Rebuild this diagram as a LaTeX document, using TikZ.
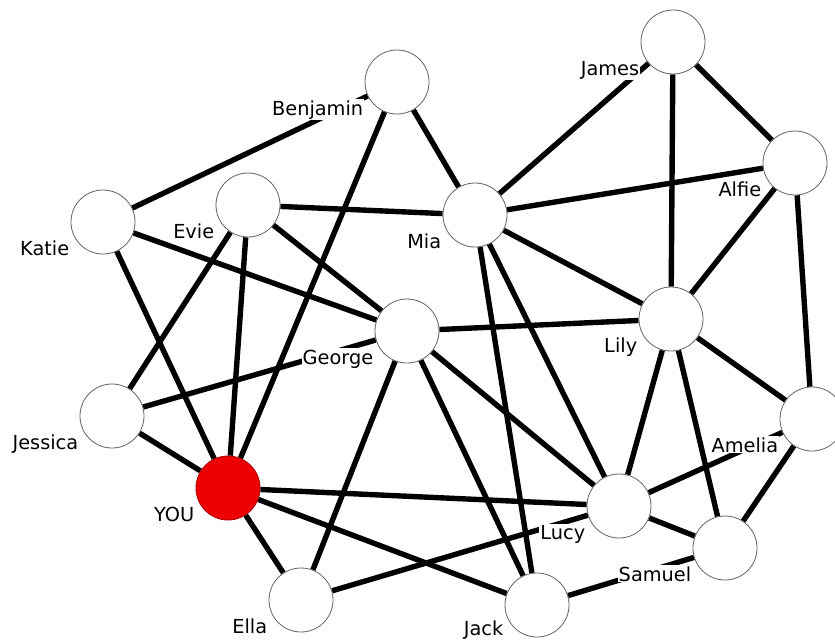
\documentclass[tikz,border=0pt]{standalone}
\usepackage{fontspec}
\setmainfont{DejaVu Sans}
\usetikzlibrary{backgrounds}
\definecolor{youred}{RGB}{238,0,0}

\begin{document}
\begin{tikzpicture}[x=0.03cm, y=-0.03cm,
   person/.style={circle, draw=black!60, line width=0.7pt, fill=white, minimum size=1.92cm, inner sep=0pt},
   me/.style={person, fill=youred, draw=youred!70!black},
   link/.style={line width=4.6pt},
   tag/.style={anchor=base east, fill=white, inner sep=1pt, font=\fontsize{16.5}{20}\selectfont}]
   \useasboundingbox (0,0) rectangle (835,639);
   \node (james) at (673,42) [person] {};
   \node (benjamin) at (397,82) [person] {};
   \node (alfie) at (795,163) [person] {};
   \node (katie) at (103,222) [person] {};
   \node (evie) at (248,205) [person] {};
   \node (mia) at (475,215) [person] {};
   \node (george) at (407,331) [person] {};
   \node (lily) at (671,319) [person] {};
   \node (jessica) at (112,416) [person] {};
   \node (amelia) at (812,419) [person] {};
   \node (you) at (228,488) [me] {};
   \node (lucy) at (619,506) [person] {};
   \node (samuel) at (725,548) [person] {};
   \node (ella) at (301,600) [person] {};
   \node (jack) at (537,605) [person] {};

   \begin{scope}[on background layer]
   \fill[white] (0,0) rectangle (835,639);
   \draw[link] (katie) -- (benjamin);
   \draw[link] (katie) -- (george);
   \draw[link] (katie) -- (you);
   \draw[link] (evie) -- (mia);
   \draw[link] (evie) -- (george);
   \draw[link] (evie) -- (jessica);
   \draw[link] (evie) -- (you);
   \draw[link] (benjamin) -- (mia);
   \draw[link] (benjamin) -- (you);
   \draw[link] (james) -- (mia);
   \draw[link] (james) -- (lily);
   \draw[link] (james) -- (alfie);
   \draw[link] (mia) -- (alfie);
   \draw[link] (mia) -- (lily);
   \draw[link] (mia) -- (lucy);
   \draw[link] (mia) -- (jack);
   \draw[link] (alfie) -- (lily);
   \draw[link] (alfie) -- (amelia);
   \draw[link] (george) -- (lily);
   \draw[link] (george) -- (ella);
   \draw[link] (george) -- (jack);
   \draw[link] (george) -- (lucy);
   \draw[link] (jessica) -- (george);
   \draw[link] (jessica) -- (you);
   \draw[link] (you) -- (lucy);
   \draw[link] (you) -- (jack);
   \draw[link] (you) -- (ella);
   \draw[link] (ella) -- (lucy);
   \draw[link] (jack) -- (samuel);
   \draw[link] (lucy) -- (samuel);
   \draw[link] (lucy) -- (amelia);
   \draw[link] (lily) -- (lucy);
   \draw[link] (lily) -- (samuel);
   \draw[link] (lily) -- (amelia);
   \draw[link] (amelia) -- (samuel);
   \end{scope}

   \node (jamesname) at ([yshift=-0.99cm]james.west) [tag] {James};
   \node (benjaminname) at ([yshift=-0.99cm]benjamin.west) [tag] {Benjamin};
   \node (alfiename) at ([yshift=-0.99cm]alfie.west) [tag] {Alfie};
   \node (katiename) at ([yshift=-0.99cm]katie.west) [tag] {Katie};
   \node (eviename) at ([yshift=-0.99cm]evie.west) [tag] {Evie};
   \node (mianame) at ([yshift=-0.99cm]mia.west) [tag] {Mia};
   \node (georgename) at ([yshift=-0.99cm]george.west) [tag] {George};
   \node (lilyname) at ([yshift=-0.99cm]lily.west) [tag] {Lily};
   \node (jessicaname) at ([yshift=-0.99cm]jessica.west) [tag] {Jessica};
   \node (amelianame) at ([yshift=-0.99cm]amelia.west) [tag] {Amelia};
   \node (youname) at ([yshift=-0.99cm]you.west) [tag] {YOU};
   \node (lucyname) at ([yshift=-0.99cm]lucy.west) [tag] {Lucy};
   \node (samuelname) at ([yshift=-0.99cm]samuel.west) [tag] {Samuel};
   \node (ellaname) at ([yshift=-0.99cm]ella.west) [tag] {Ella};
   \node (jackname) at ([yshift=-0.9cm]jack.west) [tag] {Jack};
\end{tikzpicture}
\end{document}
